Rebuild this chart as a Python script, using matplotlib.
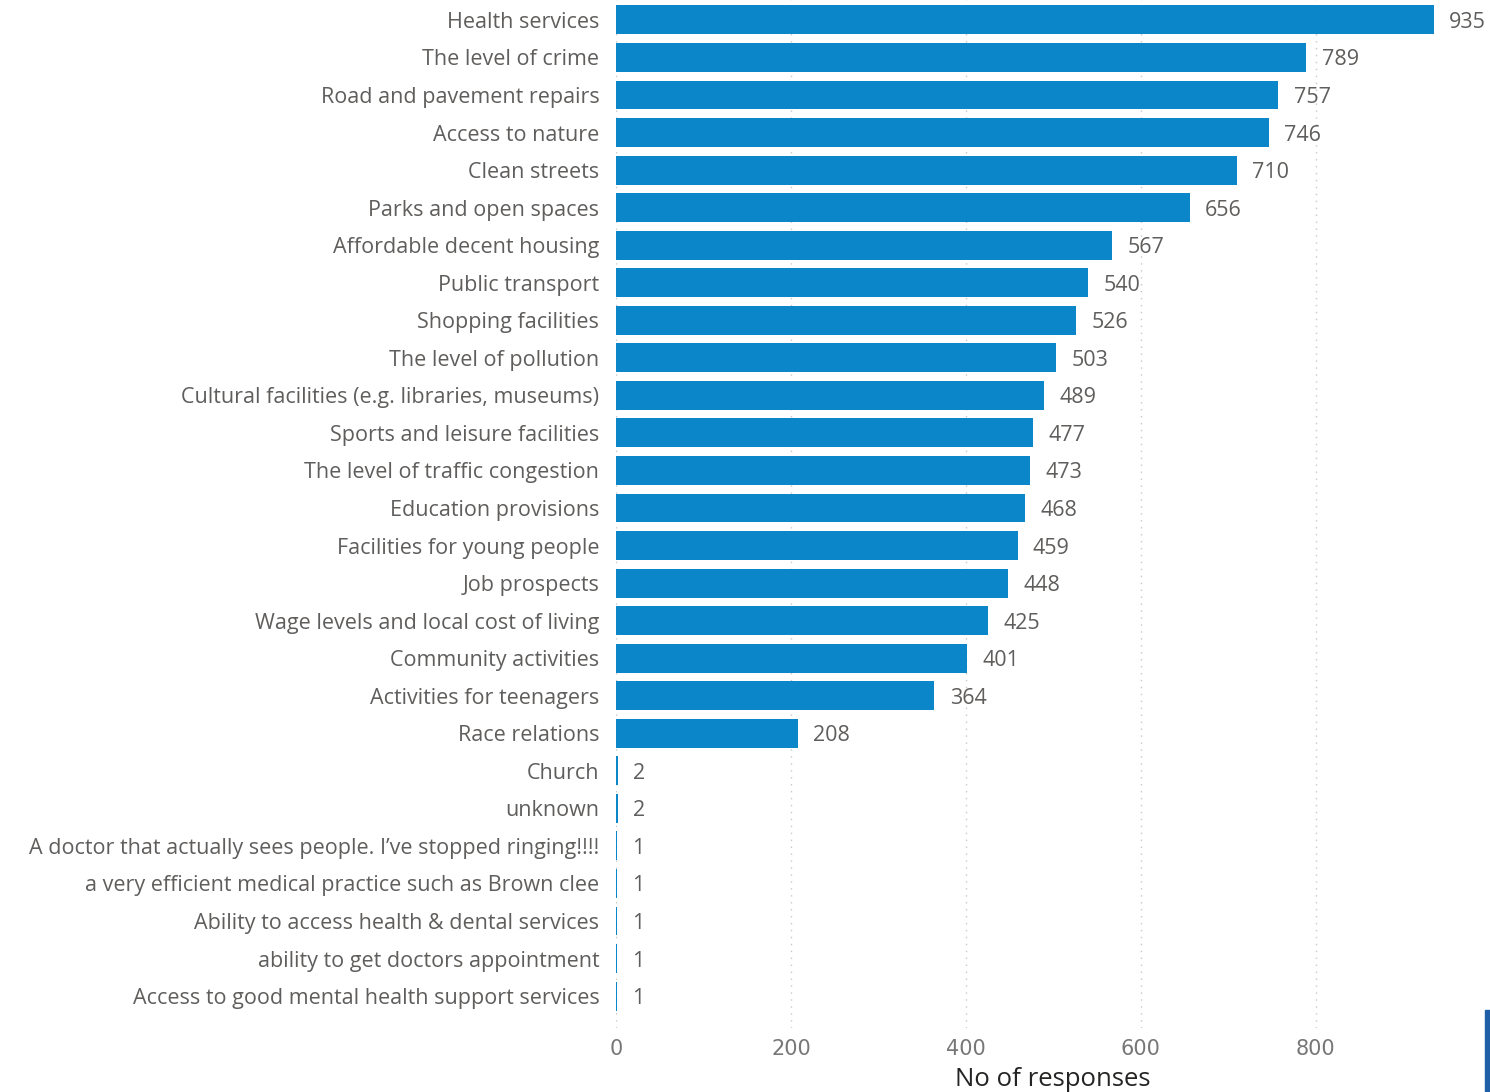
import matplotlib.pyplot as plt
from matplotlib.patches import Rectangle

# Survey categories and response counts (top to bottom)
categories = [
    "Health services", "The level of crime", "Road and pavement repairs",
    "Access to nature", "Clean streets", "Parks and open spaces",
    "Affordable decent housing", "Public transport", "Shopping facilities",
    "The level of pollution", "Cultural facilities (e.g. libraries, museums)",
    "Sports and leisure facilities", "The level of traffic congestion",
    "Education provisions", "Facilities for young people", "Job prospects",
    "Wage levels and local cost of living", "Community activities",
    "Activities for teenagers", "Race relations", "Church", "unknown",
    "A doctor that actually sees people. I\u2019ve stopped ringing!!!!",
    "a very efficient medical practice such as Brown clee",
    "Ability to access health & dental services",
    "ability to get doctors appointment",
    "Access to good mental health support services",
]
responses = [935, 789, 757, 746, 710, 656, 567, 540, 526, 503, 489, 477, 473,
             468, 459, 448, 425, 401, 364, 208, 2, 2, 1, 1, 1, 1, 1]
x_ticks = [0, 200, 400, 600, 800]

bar_color = "#0A86C9"
text_color = "#605E5C"
cond = ['DejaVu Sans Condensed', 'DejaVu Sans']

plt.rcParams['font.family'] = ['Open Sans', 'DejaVu Sans']

fig = plt.figure(figsize=(14.9, 10.92), dpi=100)
ax = fig.add_axes([616 / 1490, 1 - 1028 / 1092, 1 - 616 / 1490, 1028 / 1092])

pos = list(range(len(categories)))
ax.barh(pos, responses, height=0.77, color=bar_color, zorder=3)

for p, v in zip(pos, responses):
    ax.annotate(str(v), (v, p), xytext=(11, 0), textcoords="offset points",
                va="center_baseline", ha="left", fontsize=15.5, color=text_color)

ax.set_yticks(pos)
ax.set_yticklabels(categories, fontsize=15.5, color=text_color)
ax.set_ylim(26.85, -0.53)
ax.set_xlim(0, 999)
ax.set_xticks(x_ticks)
ax.set_xticklabels([str(t) for t in x_ticks], fontsize=15, color="#777777",
                   family=cond)
ax.tick_params(axis="both", length=0)
ax.tick_params(axis="y", pad=12)
ax.tick_params(axis="x", pad=8)
ax.grid(axis="x", linestyle=(0, (1, 4)), color="#C8C8C8", linewidth=1, zorder=0)
for s in ax.spines.values():
    s.set_visible(False)

ax.set_xlabel("No of responses", fontsize=18.5, color="#252423", labelpad=6,
              fontweight="medium")

# thin blue strip at the bottom right edge of the screenshot
fig.patches.append(Rectangle((1485 / 1490, 0), 5 / 1490, 82 / 1092,
                             transform=fig.transFigure, color="#1F5FA8"))

fig.savefig("out.png", dpi=100)
